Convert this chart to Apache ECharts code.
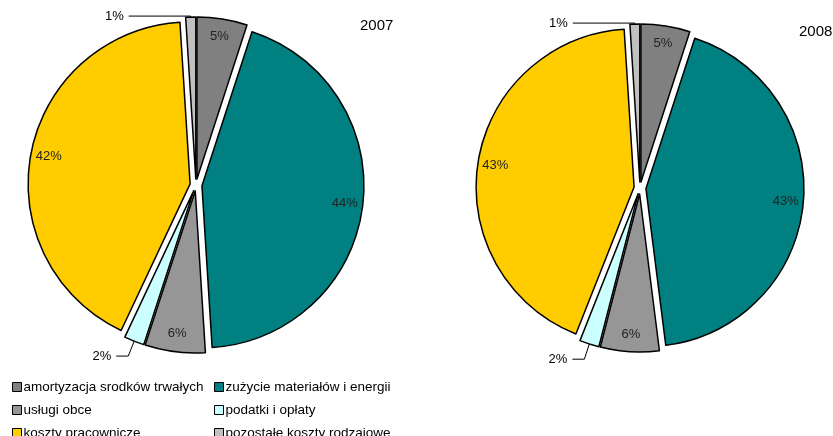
<!DOCTYPE html>
<html>
<head>
<meta charset="utf-8">
<script src="https://cdn.jsdelivr.net/npm/echarts@6/dist/echarts.min.js"></script>
<style>
  html, body { margin: 0; padding: 0; background: #fff; }
  #chart { width: 833px; height: 436px; }
</style>
</head>
<body>
<div id="chart"></div>
<script>
// kategorie kosztów i udziały procentowe
const categories = [
    'amortyzacja srodków trwałych',
    'zużycie materiałów i energii',
    'usługi obce',
    'podatki i opłaty',
    'koszty pracownicze',
    'pozostałe koszty rodzajowe'
];
const colors = ['#808080', '#008080', '#969696', '#CCFFFF', '#FFCC00', '#C0C0C0'];
const values2007 = [5, 44, 6, 2, 42, 1];
const values2008 = [5, 43, 6, 2, 43, 1];
const years = ['2007', '2008'];

// małe wycinki mają etykietę na zewnątrz
const outsideLabel = {
    3: { length: 16, length2: 12 },
    5: { length: 1, length2: 62 }
};

const font = 'Liberation Sans, Arial, sans-serif';

function mainData(values) {
    return values.map((v, i) => {
        const item = {
            name: categories[i],
            value: v,
            selected: true,
            itemStyle: { color: colors[i] }
        };
        if (outsideLabel[i]) {
            item.label = { show: true, position: 'outside' };
            item.labelLine = { show: true, length: outsideLabel[i].length, length2: outsideLabel[i].length2 };
        }
        return item;
    });
}

function labelData(values) {
    return values.map((v, i) => ({
        name: categories[i],
        value: v,
        selected: true,
        label: { show: !outsideLabel[i] }
    }));
}

function pieSeries(values, center, r) {
    return [
        {
            type: 'pie',
            center: center,
            radius: [0, r],
            startAngle: 90,
            clockwise: true,
            selectedMode: 'multiple',
            selectedOffset: 6,
            animation: false,
            itemStyle: { borderColor: '#000', borderWidth: 1.5 },
            label: {
                show: false,
                formatter: '{c}%',
                color: '#000',
                fontFamily: font,
                fontSize: 13,
                padding: 0
            },
            labelLine: { lineStyle: { color: '#000', width: 1 }, smooth: false },
            emphasis: { disabled: true },
            select: { itemStyle: { borderColor: '#000', borderWidth: 1.5 } },
            data: mainData(values)
        },
        {
            // warstwa tylko dla etykiet wewnętrznych (bliżej krawędzi)
            type: 'pie',
            center: center,
            radius: [r * 0.74, r],
            startAngle: 90,
            clockwise: true,
            selectedMode: 'multiple',
            selectedOffset: 6,
            silent: true,
            animation: false,
            itemStyle: { color: 'transparent', borderWidth: 0 },
            select: { itemStyle: { color: 'transparent', borderWidth: 0 } },
            label: {
                position: 'inside',
                formatter: '{c}%',
                color: '#222',
                fontFamily: font,
                fontSize: 13
            },
            labelLine: { show: false },
            emphasis: { disabled: true },
            data: labelData(values)
        }
    ];
}

const chart = echarts.init(document.getElementById('chart'));

const legendCommon = {
    orient: 'vertical',
    top: 375,
    height: 120,
    itemWidth: 9,
    itemHeight: 9,
    itemGap: 9,
    icon: 'rect',
    selectedMode: false,
    itemStyle: { borderColor: '#000', borderWidth: 1 },
    textStyle: { fontFamily: font, fontSize: 13.5, color: '#000', padding: [0, 0, 0, -3] }
};

const option = {
    backgroundColor: '#fff',
    color: colors,
    title: [
        {
            text: years[0],
            left: 355,
            top: 13,
            textStyle: { fontFamily: font, fontSize: 15, fontWeight: 'normal', color: '#000' }
        },
        {
            text: years[1],
            left: 794,
            top: 19,
            textStyle: { fontFamily: font, fontSize: 15, fontWeight: 'normal', color: '#000' }
        }
    ],
    legend: [
        Object.assign({}, legendCommon, {
            left: 7,
            data: [categories[0], categories[2], categories[4]]
        }),
        Object.assign({}, legendCommon, {
            left: 209,
            data: [categories[1], categories[3], categories[5]]
        })
    ],
    series: [
        ...pieSeries(values2007, [196, 185], 162),
        ...pieSeries(values2008, [640, 188], 158)
    ]
};

chart.setOption(option);
</script>
</body>
</html>
